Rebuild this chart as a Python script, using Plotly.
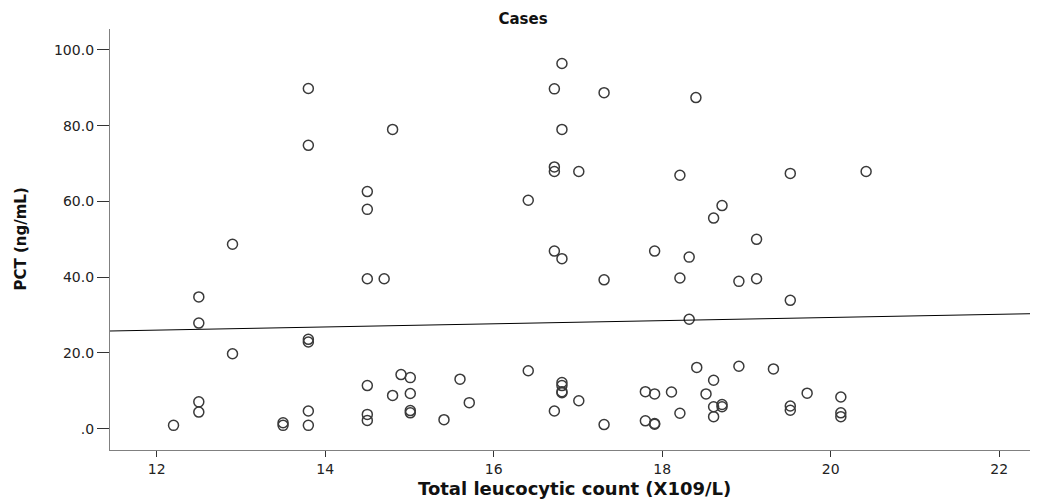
import plotly.graph_objects as go

# Data
wbc = [12.20, 12.50, 12.50, 12.50, 12.50, 12.90, 12.90, 13.50, 13.50, 13.80,
       13.80, 13.80, 13.80, 13.80, 13.80, 14.50, 14.50, 14.50, 14.70, 14.80,
       14.50, 14.50, 14.50, 14.90, 15.01, 14.80, 15.01, 15.01, 15.01, 15.60,
       15.71, 15.41, 16.41, 16.41, 16.72, 16.81, 16.81, 16.72, 16.72, 17.01,
       16.72, 16.81, 16.81, 16.81, 16.81, 16.81, 16.72, 17.01, 17.31, 17.31,
       17.31, 17.80, 17.91, 17.80, 17.91, 17.91, 17.91, 18.11, 18.21, 18.21,
       18.21, 18.32, 18.32, 18.40, 18.41, 18.52, 18.61, 18.61, 18.61, 18.61,
       18.71, 18.71, 18.71, 18.91, 18.91, 19.12, 19.12, 19.32, 19.52, 19.52,
       19.52, 19.52, 19.72, 20.12, 20.12, 20.12, 20.42]
pct = [0.9, 34.8, 27.9, 7.1, 4.4, 19.8, 48.7, 1.6, 0.9, 89.8,
       74.8, 23.6, 22.9, 4.7, 0.9, 62.6, 57.9, 39.6, 39.6, 79.0,
       11.4, 3.8, 2.2, 14.3, 13.5, 8.8, 9.3, 4.8, 4.2, 13.1,
       6.9, 2.4, 60.3, 15.3, 89.7, 96.4, 79.0, 69.1, 67.9, 67.9,
       46.9, 44.9, 12.2, 11.4, 9.8, 9.5, 4.7, 7.4, 88.7, 39.3,
       1.1, 9.8, 9.2, 2.1, 1.4, 1.2, 46.9, 9.7, 66.9, 39.8,
       4.1, 45.3, 28.9, 87.4, 16.2, 9.2, 55.6, 12.8, 5.8, 3.2,
       58.9, 6.4, 5.8, 38.9, 16.5, 50.0, 39.6, 15.8, 67.4, 33.9,
       6.0, 4.9, 9.4, 8.4, 4.2, 3.2, 67.9]

# Fit line end points
fit_x = [11.446, 22.46]
fit_y = [25.8, 30.4]

y_tick_vals = [0, 20, 40, 60, 80, 100]
y_tick_text = [".0", "20.0", "40.0", "60.0", "80.0", "100.0"]
x_tick_vals = [12, 14, 16, 18, 20, 22]

FONT = "DejaVu Sans"
W, H = 1030, 491  # page adds an 8px body margin

fig = go.Figure()
fig.add_trace(go.Scatter(
    x=wbc, y=pct, mode="markers",
    marker=dict(symbol="circle-open", size=10, color="#3a3a3a",
                line=dict(width=1.5, color="#3a3a3a")),
    showlegend=False, hoverinfo="x+y"))
fig.add_trace(go.Scatter(
    x=fit_x, y=fit_y, mode="lines",
    line=dict(color="#000000", width=1),
    showlegend=False, hoverinfo="skip"))

fig.update_layout(
    width=W, height=H,
    margin=dict(l=102, r=0, t=21, b=49),
    paper_bgcolor="white", plot_bgcolor="white",
    font=dict(family=FONT, color="#222222", size=14),
    title=dict(text="<b>Cases</b>", x=0.5, xref="container", xanchor="center",
               y=1 - 11 / H, yref="container", yanchor="middle",
               font=dict(family=FONT, size=15, color="#111111")),
    xaxis=dict(range=[11.446, 22.46], tickvals=x_tick_vals,
               ticks="outside", ticklen=6, tickwidth=1.3, tickcolor="#333333",
               showline=True, linecolor="#808080", linewidth=1.3,
               showgrid=False, zeroline=False,
               tickfont=dict(family=FONT, size=14, color="#222222")),
    yaxis=dict(range=[-5.6, 105.5], tickvals=y_tick_vals, ticktext=y_tick_text,
               ticks="outside", ticklen=12, tickwidth=1.3, tickcolor="#333333",
               showline=True, linecolor="#808080", linewidth=1.3,
               showgrid=False, zeroline=False,
               tickfont=dict(family=FONT, size=14, color="#222222")),
    annotations=[
        dict(text="<b>Total leucocytic count (X109/L)</b>", xref="paper", yref="paper",
             x=0.5, y=0, yshift=-38, xanchor="center", yanchor="middle",
             showarrow=False, font=dict(family=FONT, size=18, color="#111111")),
        dict(text="<b>PCT (ng/mL)</b>", xref="paper", yref="paper",
             x=(12 - 102) / 928, y=0.5, textangle=-90, xanchor="center",
             yanchor="middle", showarrow=False,
             font=dict(family=FONT, size=15, color="#111111")),
    ],
)

fig.write_html("out.html")
